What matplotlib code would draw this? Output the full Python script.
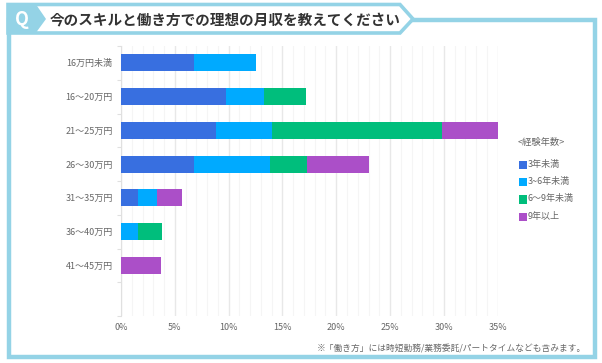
import numpy as np
import matplotlib
matplotlib.use("Agg")
from matplotlib import pyplot as plt
from matplotlib.patches import Polygon, Rectangle

plt.rcParams['font.family'] = ['Noto Sans CJK JP', 'DejaVu Sans']

categories = ["16万円未満", "16～20万円", "21～25万円", "26～30万円", "31～35万円", "36～40万円", "41～45万円", ""]
under3 = [6.8, 9.8, 8.85, 6.8, 1.6, 0, 0, 0]
from3to6 = [5.75, 3.5, 5.2, 7.05, 1.75, 1.6, 0, 0]
from6to9 = [0, 3.9, 15.8, 3.45, 0, 2.2, 0, 0]
over9 = [0, 0, 5.15, 5.75, 2.35, 0, 3.75, 0]
series_names = ["3年未満", "3~6年未満", "6～9年未満", "9年以上"]
series_colors = ["#386fe0", "#00aaff", "#00be7c", "#ab4fc8"]
xticks = [0, 5, 10, 15, 20, 25, 30, 35]

W, H = 602, 363
frame_color = "#94d3e6"
text_color = "#666666"

fig = plt.figure(figsize=(W / 100, H / 100), dpi=100)

# background layer in pixel coords
bg = fig.add_axes([0, 0, 1, 1])
bg.set_xlim(0, W)
bg.set_ylim(H, 0)
bg.axis("off")
bg.add_patch(Rectangle((9, 20), 585.5, 337, fc="white", ec=frame_color, lw=3.2))
bg.add_patch(Polygon([(8, 4.5), (400, 4.5), (413, 19), (400, 33), (8, 33)],
                     closed=True, fc="white", ec=frame_color, lw=2.6))
bg.add_patch(Polygon([(7, 3), (35, 3), (46, 19), (35, 34), (7, 34)], closed=True, fc=frame_color, ec="none"))
bg.text(22, 19.5, "Q", color="white", fontsize=13, fontweight="bold", ha="center", va="center")
bg.text(50, 19.5, "今のスキルと働き方での理想の月収を教えてください", color="#333333", fontsize=10.5,
        fontweight="bold", ha="left", va="center")
bg.text(586, 349, "※「働き方」には時短勤務/業務委託/パートタイムなども含みます。", color=text_color,
        fontsize=6.27, ha="right", va="center")

# chart
left, right, top, bottom = 121, 497.7, 46, 316
ax = fig.add_axes([left / W, 1 - bottom / H, (right - left) / W, (bottom - top) / H])
ax.patch.set_alpha(0)
y = np.arange(len(categories))
base = np.zeros(len(categories))
for vals, name, col in zip([under3, from3to6, from6to9, over9], series_names, series_colors):
    vals = np.array(vals)
    ax.barh(y, vals, left=base, height=0.5, color=col, label=name, zorder=3)
    base = base + vals

ax.set_xlim(0, 35)
ax.set_ylim(len(categories) - 0.5, -0.5)
ax.set_yticks(y)
ax.set_yticklabels(categories)
ax.set_yticks(np.arange(len(categories) + 1) - 0.5, minor=True)
ax.set_xticks(xticks)
ax.set_xticklabels([str(v) + "%" for v in xticks])
ax.set_xticks(np.arange(0, 36), minor=True)
ax.grid(True, axis="x", which="minor", color="#f5f5f5", lw=0.8, zorder=0)
ax.grid(True, axis="x", which="major", color="#e8e8e8", lw=1.0, zorder=1)
ax.tick_params(axis="x", which="both", length=0, labelsize=6.5, labelcolor=text_color, pad=5)
ax.tick_params(axis="y", which="major", length=0, labelsize=6.5, labelcolor=text_color, pad=6)
ax.tick_params(axis="y", which="minor", length=3, color="#e0e0e0", width=0.8)
for s in ["top", "right", "bottom"]:
    ax.spines[s].set_visible(False)
ax.spines["left"].set_color("#e0e0e0")
ax.spines["left"].set_linewidth(0.8)

# legend
bg.text(518, 142, "<経験年数>", color=text_color, fontsize=6.7, ha="left", va="center")
for i, (name, col) in enumerate(zip(series_names, series_colors)):
    ly = 164.5 + i * 17.4
    bg.add_patch(Rectangle((518.5, ly - 4), 8.5, 8.5, fc=col, ec="none"))
    bg.text(528, ly - 0.5, name, color=text_color, fontsize=6.5, ha="left", va="center")

fig.savefig("out.png", dpi=100)
